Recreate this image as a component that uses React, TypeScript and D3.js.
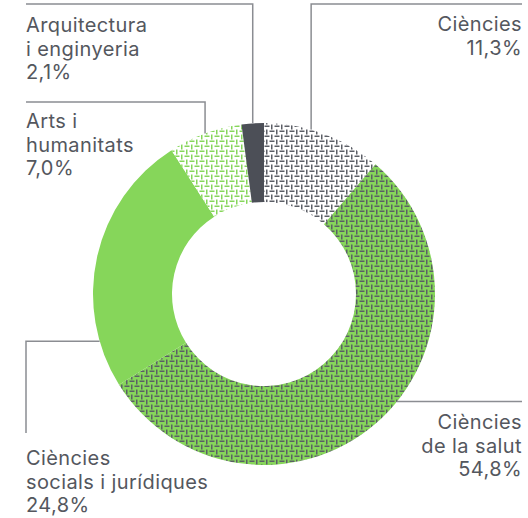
import React from "react";
import * as d3 from "d3";

// data
const categories = [
  "Ciències",
  "Ciències de la salut",
  "Ciències socials i jurídiques",
  "Arts i humanitats",
  "Arquitectura i enginyeria",
];
const values = [11.3, 54.8, 24.8, 7.0, 2.1];
const labelLines = [
  ["Ciències"],
  ["Ciències", "de la salut"],
  ["Ciències", "socials i jurídiques"],
  ["Arts i", "humanitats"],
  ["Arquitectura", "i enginyeria"],
];

const GREEN = "#86d65a";
const DARK = "#4c4f57";
const TEXT = "#54575e";
const LINE = "#8b8d92";

const fills = [
  "url(#weave-dark)",
  "url(#weave-dark-green)",
  GREEN,
  "url(#weave-green)",
  DARK,
];

const width = 528;
const height = 518;
const cx = 264;
const cy = 294;
const outerR = 171;
const innerR = 92;

const toRad = (deg: number) => (deg * Math.PI) / 180;

// leader line + label placement, one per category
const layout = [
  { angle: toRad(16), kind: "up", y: 4, endX: 522, anchor: "end", tx: 522, ty: 31 },
  { angle: toRad(129), kind: "side", endX: 522, anchor: "end", tx: 522, ty: 429 },
  { angle: toRad(254), kind: "sideDown", endX: 26, downTo: 433, anchor: "start", tx: 26, ty: 465 },
  { angle: null, kind: "up", y: 102, endX: 26, anchor: "start", tx: 26, ty: 128 },
  { angle: null, kind: "up", y: 4, endX: 26, anchor: "start", tx: 26, ty: 32 },
];

const fmt = (v: number) => v.toFixed(1).replace(".", ",") + "%";

// basketweave of short dashes, staggered every half tile
function Weave({ id, bg, fg }: { id: string; bg: string; fg: string }) {
  const s = 10;
  const h = s / 2;
  const t = 1.5;
  const len = 5;
  return (
    <pattern id={id} width={s} height={s} patternUnits="userSpaceOnUse">
      <rect width={s} height={s} fill={bg} />
      <rect x={0.5} y={1.5} width={len} height={t} fill={fg} />
      <rect x={7} y={0.5} width={t} height={len} fill={fg} />
      <rect x={0.5 + h} y={1.5 + h} width={len} height={t} fill={fg} />
      <rect x={0.5 - h} y={1.5 + h} width={len} height={t} fill={fg} />
      <rect x={7 - h} y={0.5 + h} width={t} height={len} fill={fg} />
      <rect x={7 - h} y={0.5 - h} width={t} height={len} fill={fg} />
    </pattern>
  );
}

export default function App() {
  const pie = d3
    .pie<number>()
    .sort(null)
    .value((d) => d)
    .startAngle(0)
    .endAngle(2 * Math.PI);
  const arcs = pie(values);
  const arc = d3.arc<d3.PieArcDatum<number>>().innerRadius(innerR).outerRadius(outerR);

  const pt = (a: number) => [cx + outerR * Math.sin(a), cy - outerR * Math.cos(a)];

  return (
    <svg
      width={width}
      height={height}
      style={{ position: "absolute", left: 0, top: 0, background: "#fff" }}
      fontFamily="Inter, 'Noto Sans', sans-serif"
    >
      <defs>
        <Weave id="weave-dark" bg="#ffffff" fg="#5b5e66" />
        <Weave id="weave-dark-green" bg={GREEN} fg="#5b5e66" />
        <Weave id="weave-green" bg="#ffffff" fg={GREEN} />
      </defs>
      <g transform={`translate(${cx},${cy})`}>
        {arcs.map((a, i) => (
          <path key={categories[i]} d={arc(a) || ""} fill={fills[i]} />
        ))}
      </g>
      {arcs.map((a, i) => {
        const l = layout[i];
        const ang = l.angle ?? (a.startAngle + a.endAngle) / 2;
        const [x0, y0] = pt(ang);
        let pts: number[][];
        if (l.kind === "up") pts = [[x0, y0], [x0, l.y!], [l.endX, l.y!]];
        else if (l.kind === "side") pts = [[x0, y0], [l.endX, y0]];
        else pts = [[x0, y0], [l.endX, y0], [l.endX, l.downTo!]];
        return (
          <polyline
            key={"l" + i}
            points={pts.map((p) => p.join(",")).join(" ")}
            fill="none"
            stroke={LINE}
            strokeWidth={1.5}
          />
        );
      })}
      {labelLines.map((lines, i) => {
        const l = layout[i];
        const all = [...lines, fmt(values[i])];
        return (
          <text
            key={"t" + i}
            x={l.tx}
            y={l.ty}
            textAnchor={l.anchor}
            fill={TEXT}
            fontSize={20}
            letterSpacing={0.4}
          >
            {all.map((s, j) => (
              <tspan key={j} x={l.tx} dy={j === 0 ? 0 : 23.5}>
                {s}
              </tspan>
            ))}
          </text>
        );
      })}
    </svg>
  );
}
